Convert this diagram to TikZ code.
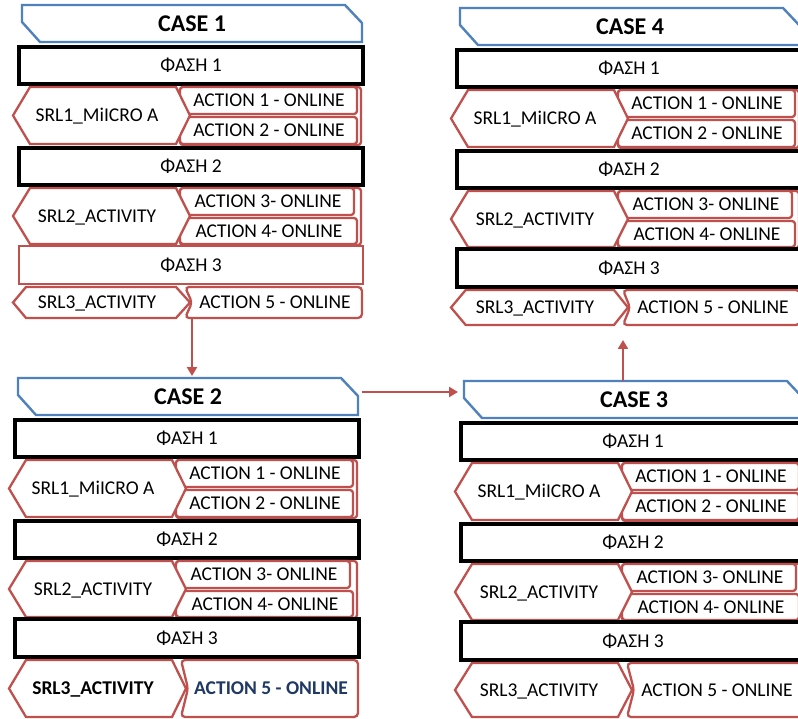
\documentclass[tikz,border=0pt]{standalone}
\usepackage{fontspec}
\setmainfont{Carlito}
\usetikzlibrary{arrows.meta}

\definecolor{accred}{HTML}{C0504D}
\definecolor{accblue}{HTML}{4F81BD}
\definecolor{navytext}{HTML}{1F3864}

\tikzset{
  hdrbox/.style={draw=accblue, line width=2.4pt, fill=white, line join=miter},
  phasebox/.style={draw=black, line width=3.3pt, fill=white},
  phasered/.style={draw=accred, line width=2.6pt, fill=white},
  redbox/.style={draw=accred, line width=2.3pt, fill=white, rounded corners=3pt},
  hexbox/.style={draw=accred, line width=2.3pt, fill=white, line join=miter},
  lbl/.style={font=\fontsize{19.5}{21}\selectfont, inner sep=0pt, text height=12.3pt, text depth=0pt},
  hdrlbl/.style={font=\fontsize{24}{26}\selectfont\bfseries, inner sep=0pt, text height=15.2pt, text depth=0pt},
  srlplain/.style={},
  srlbold/.style={font=\fontsize{19.5}{21}\selectfont\bfseries},
  actplain/.style={},
  actnavy/.style={font=\fontsize{19.5}{21}\selectfont\bfseries, text=navytext},
  flow/.style={draw=accred, line width=2.6pt, -{Triangle[length=9pt,width=10pt]}},
}

% hexagon pointing both ways: top, bottom, depth of the left point
\newcommand\hexshape[3]{%
  \draw[hexbox] (-6,{(#1+#2)/2}) -- ({-6+#3},#1) -- (157,#1) -- (171,{(#1+#2)/2})
    -- (157,#2) -- ({-6+#3},#2) -- cycle;}

% one case panel: name, x, y, title, height of last row, phase-3 style,
% style of SRL3 text, style of ACTION 5 text
\newcommand\casepanel[8]{%
\begin{scope}[shift={(#2,#3)}]
  \draw[hdrbox] (3,0) -- (326,0) -- (343,18) -- (343,37) -- (21,37) -- (3,17) -- cycle;
  \node[hdrlbl] (#1-title) at (173,19) {#4};
  \coordinate (#1-top) at (173,0);
  \coordinate (#1-east) at (347,14);
  \coordinate (#1-west) at (-3,14);
  \coordinate (#1-bottom) at (173,{282+#5});
  % phase 1
  \draw[phasebox] (0,42) rectangle (344,79);
  \node[lbl] (#1-p1) at (172,60.5) {ΦΑΣΗ 1};
  % first SRL row
  \draw[redbox] (161,82) rectangle (342,140);
  \draw[redbox] (161,82) rectangle (338,109);
  \draw[redbox] (161,112) rectangle (338,139);
  \hexshape{82}{139}{17}
  \node[lbl] (#1-s1) at (78,110.5) {SRL1\_MiICRO A};
  \node[lbl] (#1-a1) at (250,95.5) {ACTION 1 - ONLINE};
  \node[lbl] (#1-a2) at (250,125.5) {ACTION 2 - ONLINE};
  % phase 2
  \draw[phasebox] (0,143) rectangle (344,180);
  \node[lbl] (#1-p2) at (172,161.5) {ΦΑΣΗ 2};
  % second SRL row
  \draw[redbox] (161,183) rectangle (342,240);
  \draw[redbox] (161,183) rectangle (335,210);
  \draw[redbox] (161,213) rectangle (338,239);
  \hexshape{183}{239}{17}
  \node[lbl] (#1-s2) at (78,211) {SRL2\_ACTIVITY};
  \node[lbl] (#1-a3) at (249,196.5) {ACTION 3- ONLINE};
  \node[lbl] (#1-a4) at (250,226) {ACTION 4- ONLINE};
  % phase 3
  \draw[#6] (0,241) rectangle (344,279);
  \node[lbl] (#1-p3) at (172,260) {ΦΑΣΗ 3};
  % third SRL row
  \draw[redbox, rounded corners=4pt] (166,282) -- (173,{282+#5/2}) -- (166,{282+#5})
    -- (343,{282+#5}) -- (343,282) -- cycle;
  \hexshape{282}{282+#5}{min(17,0.42*#5)}
  \node[lbl, #7] (#1-s3) at (78,{282+#5/2}) {SRL3\_ACTIVITY};
  \node[lbl, #8] (#1-a5) at (256,{282+#5/2}) {ACTION 5 - ONLINE};
\end{scope}}

\begin{document}
\begin{tikzpicture}[x=1pt, y=-1pt]
  \useasboundingbox (0,0) rectangle (798,719);
  \clip (0,0) rectangle (798,719);
  \fill[white] (0,0) rectangle (798,719);

  \casepanel{c1}{19}{5}{CASE 1}{31}{phasered}{srlplain}{actplain}
  \casepanel{c4}{457}{8}{CASE 4}{35}{phasebox}{srlplain}{actplain}
  \casepanel{c2}{15}{378}{CASE 2}{57}{phasebox}{srlbold}{actnavy}
  \casepanel{c3}{461}{381}{CASE 3}{54}{phasebox}{srlplain}{actplain}

  % flow between the cases
  \coordinate (c3-up) at ([xshift=-11pt]c3-top);
  \draw[flow, shorten >=2pt] (c1-bottom) -- (c1-bottom |- c2-top);
  \draw[flow] (c2-east) -- (c2-east -| c3-west);
  \draw[flow, shorten >=15pt] (c3-up) -- (c3-up |- c4-bottom);
\end{tikzpicture}
\end{document}
